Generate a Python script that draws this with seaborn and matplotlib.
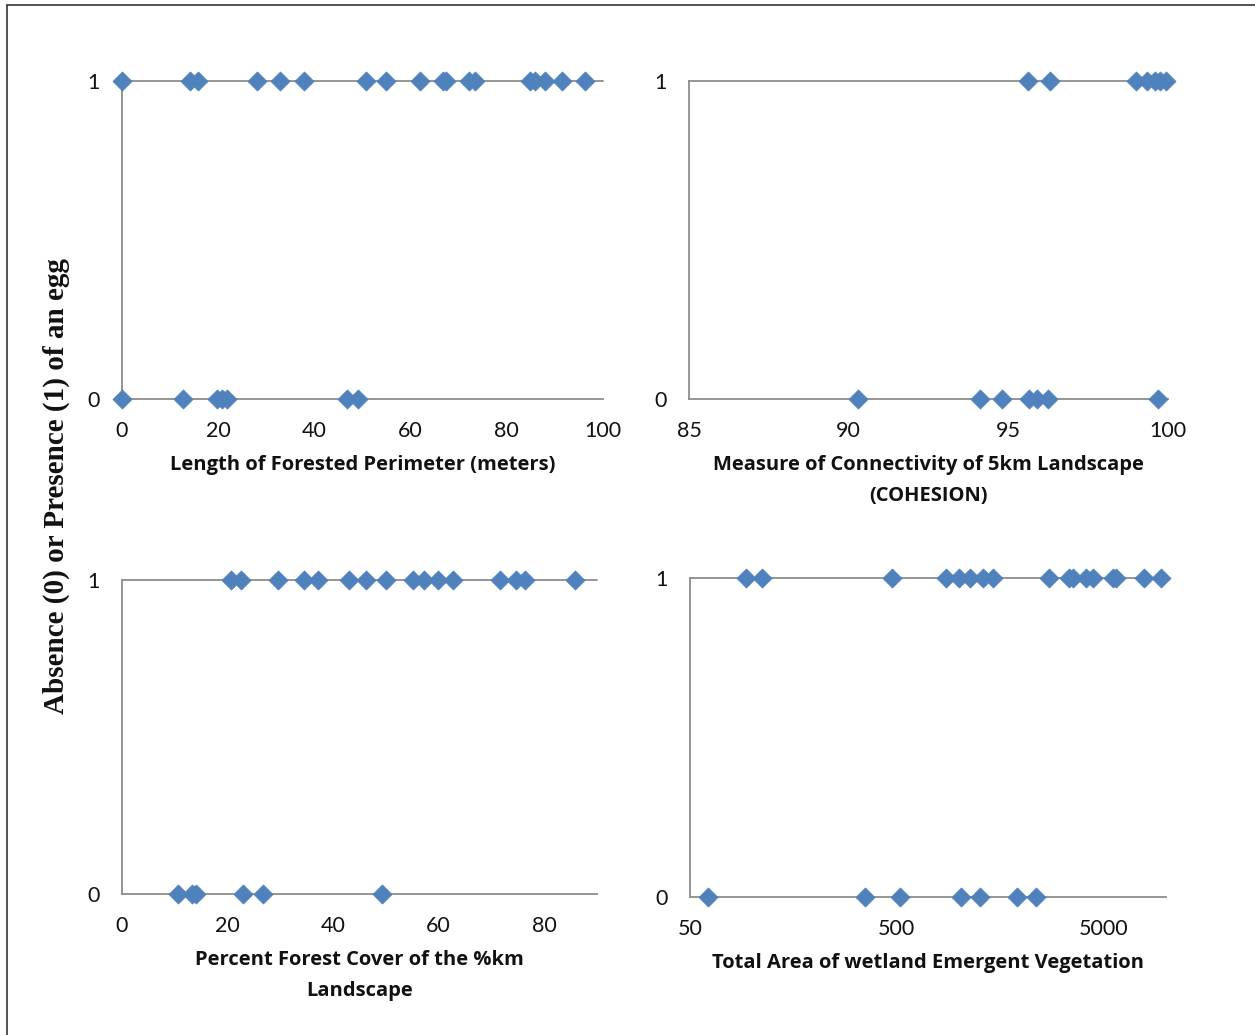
import matplotlib
matplotlib.use("Agg")
import matplotlib.pyplot as plt
import matplotlib.ticker as mticker
import seaborn as sns
import pandas as pd

# ============================
# DATA
# ============================
perim_present = [0, 14.1, 15.8, 28.1, 32.8, 37.8, 50.7, 54.9, 62.0, 66.7, 67.4,
                 72.1, 73.4, 84.8, 85.9, 87.9, 91.5, 96.3]
perim_absent = [0, 12.6, 19.7, 20.8, 21.8, 46.8, 49.1]

cohesion_present = [95.6, 96.3, 99.0, 99.35, 99.6, 99.75, 99.95]
cohesion_absent = [90.3, 94.1, 94.8, 95.65, 95.9, 96.25, 99.7]

forest_present = [20.7, 22.6, 29.6, 34.4, 37.2, 43.0, 46.3, 50.0, 55.1, 57.3,
                  59.9, 62.7, 71.6, 74.7, 76.3, 85.8]
forest_absent = [10.7, 13.2, 14.1, 23.0, 26.7, 49.3]

wetland_present = [93, 112, 474, 867, 1003, 1135, 1312, 1467, 2711, 3404, 3537,
                   4100, 4420, 5530, 5737, 7870, 9487]
wetland_absent = [61, 351, 519, 1022, 1259, 1911, 2365]

x_labels = ["Length of Forested Perimeter (meters)",
            "Measure of Connectivity of 5km Landscape\n(COHESION)",
            "Percent Forest Cover of the %km\nLandscape",
            "Total Area of wetland Emergent Vegetation"]
y_label = "Absence (0) or Presence (1) of an egg"

# ============================
# STYLE
# ============================
sns.set_style("white")
plt.rcParams['font.family'] = ['Lato', 'DejaVu Sans']

BLUE = "#4F81BD"
GRAY = "#8C8C8C"
TEXT = "#111111"


def frame(present, absent):
    return pd.DataFrame({
        "x": list(present) + list(absent),
        "y": [1] * len(present) + [0] * len(absent),
    })


def style_axis(ax, xlabel, xlim, xticks, log=False):
    if log:
        ax.set_xscale("log")
        ax.xaxis.set_minor_locator(mticker.NullLocator())
    ax.set_xlim(*xlim)
    ax.set_ylim(0, 1)
    ax.set_xticks(xticks)
    ax.set_xticklabels([str(t) for t in xticks])
    ax.set_yticks([0, 1])
    ax.set_yticklabels(["0", "1"])
    for s in ["top", "right"]:
        ax.spines[s].set_visible(False)
    for s in ["left", "bottom"]:
        ax.spines[s].set_color(GRAY)
        ax.spines[s].set_linewidth(1.3)
    ax.grid(False)
    ax.axhline(1, color=GRAY, lw=1.3, zorder=1, clip_on=False)
    ax.tick_params(axis="x", direction="in", length=4, width=1.3, color=GRAY,
                   pad=16, labelsize=15.5, labelcolor=TEXT)
    ax.tick_params(axis="y", direction="out", length=6, width=1.3, color=GRAY,
                   pad=10, labelsize=15.5, labelcolor=TEXT)
    ax.set_xlabel(xlabel, fontsize=14.5, fontweight="bold", labelpad=10,
                  linespacing=1.75, color=TEXT,
                  family=["Open Sans", "DejaVu Sans"])
    ax.set_ylabel("")


fig = plt.figure(figsize=(12.55, 10.35), dpi=100)

axes = [
    fig.add_axes([0.0972, 0.6145, 0.3833, 0.3072]),
    fig.add_axes([0.5490, 0.6145, 0.3817, 0.3072]),
    fig.add_axes([0.0972, 0.1362, 0.3785, 0.3034]),
    fig.add_axes([0.5498, 0.1333, 0.3792, 0.3082]),
]

panels = [
    (perim_present, perim_absent, (0, 100), [0, 20, 40, 60, 80, 100], False),
    (cohesion_present, cohesion_absent, (85, 100), [85, 90, 95, 100], False),
    (forest_present, forest_absent, (0, 90), [0, 20, 40, 60, 80], False),
    (wetland_present, wetland_absent, (50, 10000), [50, 500, 5000], True),
]

for ax, (pres, absn, xlim, xt, lg), xl in zip(axes, panels, x_labels):
    df = frame(pres, absn)
    sns.scatterplot(data=df, x="x", y="y", ax=ax, marker="D", s=95,
                    color=BLUE, edgecolor=BLUE, linewidth=0.5,
                    clip_on=False, zorder=5, legend=False)
    style_axis(ax, xl, xlim, xt, log=lg)

fig.text(0.045, 0.53, y_label, rotation=90, ha="center", va="center",
         fontsize=21, fontweight="bold", color=TEXT,
         family=["Liberation Serif"])

# outer border like the source image (only left and top edges show)
fig.add_artist(plt.Rectangle((7 / 1255, -0.05), 1.1, 1 - 5 / 1035 + 0.05,
                             transform=fig.transFigure, fill=False,
                             edgecolor="#333333", lw=1.2))

plt.savefig("out.png", dpi=100)
